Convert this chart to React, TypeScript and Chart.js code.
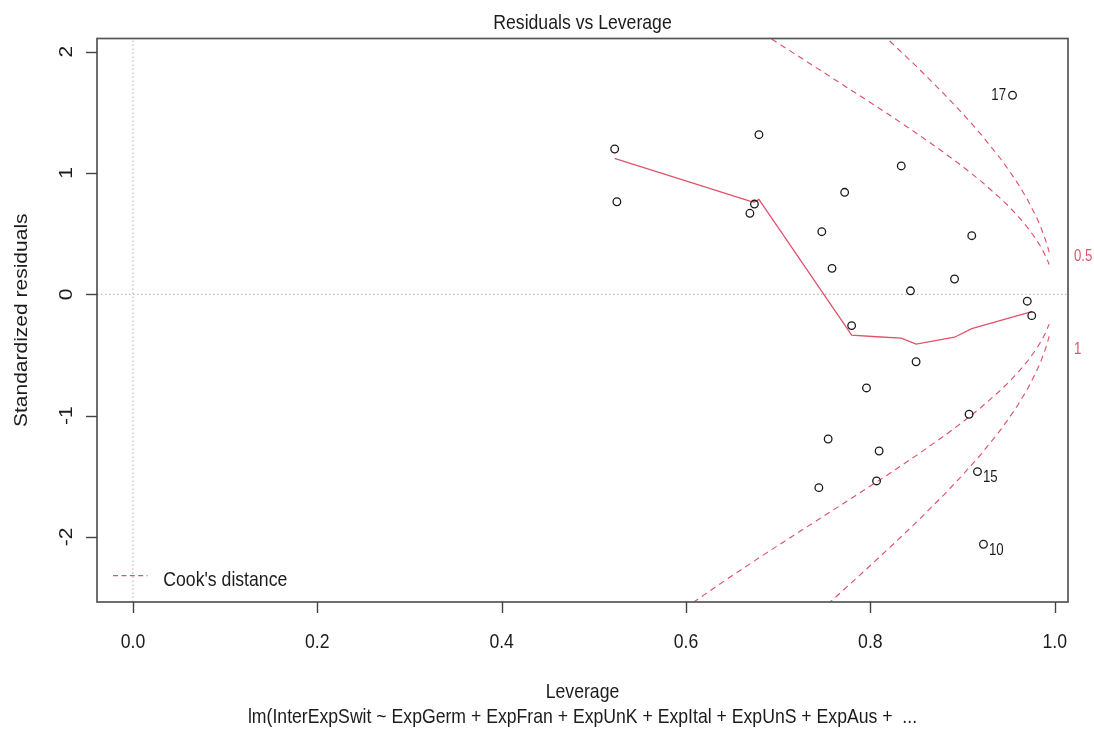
import React, { useEffect, useRef } from "react";
import { Chart, registerables } from "chart.js";

Chart.register(...registerables);

// ---- data ----
const leverage = [
  0.5226, 0.525, 0.6791, 0.6742, 0.6693, 0.8335, 0.7721, 0.7473, 0.7584, 0.91,
  0.8913, 0.8435, 0.9702, 0.9751, 0.7797, 0.8496, 0.7958, 0.9071, 0.7542, 0.8095,
  0.8067, 0.7441, 0.9162, 0.9227, 0.9542,
];
const stdResid = [
  1.198, 0.763, 1.316, 0.744, 0.668, 1.058, 0.841, 0.516, 0.214, 0.483,
  0.126, 0.029, -0.057, -0.176, -0.258, -0.556, -0.772, -0.989, -1.193, -1.292,
  -1.539, -1.594, -1.462, -2.061, 1.641,
];

const smoothLev = [0.5226, 0.525, 0.6693, 0.6742, 0.6791, 0.7797, 0.8067, 0.8335, 0.8496, 0.8913, 0.91, 0.9751];
const smoothRes = [1.121, 1.114, 0.769, 0.761, 0.783, -0.336, -0.35, -0.362, -0.41, -0.354, -0.283, -0.143];

const cook05Lev = [0.58, 0.6, 0.62, 0.65, 0.68, 0.7, 0.72, 0.75, 0.78, 0.8, 0.82, 0.85, 0.88, 0.9, 0.92, 0.94, 0.95, 0.96, 0.97, 0.98, 0.985, 0.99, 0.994];
const cook05Upper = [2.691, 2.582, 2.476, 2.32, 2.169, 2.07, 1.972, 1.826, 1.679, 1.581, 1.482, 1.328, 1.168, 1.054, 0.933, 0.799, 0.726, 0.645, 0.556, 0.452, 0.39, 0.318, 0.246];
const cook05Lower = [-2.691, -2.582, -2.476, -2.32, -2.169, -2.07, -1.972, -1.826, -1.679, -1.581, -1.482, -1.328, -1.168, -1.054, -0.933, -0.799, -0.726, -0.645, -0.556, -0.452, -0.39, -0.318, -0.246];

const cook1Lev = [0.72, 0.74, 0.76, 0.78, 0.8, 0.82, 0.85, 0.88, 0.9, 0.92, 0.94, 0.95, 0.96, 0.97, 0.98, 0.985, 0.99, 0.994];
const cook1Upper = [2.789, 2.651, 2.513, 2.375, 2.236, 2.095, 1.879, 1.651, 1.491, 1.319, 1.13, 1.026, 0.913, 0.787, 0.639, 0.552, 0.449, 0.3475];
const cook1Lower = [-2.789, -2.651, -2.513, -2.375, -2.236, -2.095, -1.879, -1.651, -1.491, -1.319, -1.13, -1.026, -0.913, -0.787, -0.639, -0.552, -0.449, -0.3475];

const idLabels = ["17", "15", "10"];
const idPoints = [24, 22, 23];

const xTickValues = [0, 0.2, 0.4, 0.6, 0.8, 1.0];
const xTickLabels = ["0.0", "0.2", "0.4", "0.6", "0.8", "1.0"];
const yTickValues = [-2, -1, 0, 1, 2];
const yTickLabels = ["-2", "-1", "0", "1", "2"];
const cookAxisValues = [0.318, -0.449];
const cookAxisLabels = ["0.5", "1"];

const titleText = "Residuals vs Leverage";
const xTitleText = "Leverage";
const yTitleText = "Standardized residuals";
const subTitleText = "lm(InterExpSwit ~ ExpGerm + ExpFran + ExpUnK + ExpItal + ExpUnS + ExpAus +  ...";
const legendText = "Cook's distance";

const X_MIN = -0.039;
const X_MAX = 1.0144;
const Y_MIN = -2.537;
const Y_MAX = 2.109;

// ---- styles ----
const RED = "#DF536B";
const INK = "#1c1c1c";
const FONT = '"Liberation Sans", Arial, sans-serif';
const K = 0.84;
const SIZE = 21;
const SIZE_ID = 15.75;

function sText(
  ctx: CanvasRenderingContext2D,
  text: string,
  x: number,
  y: number,
  size: number,
  align: CanvasTextAlign,
  baseline: CanvasTextBaseline,
  color: string,
  rotate = false
) {
  ctx.save();
  ctx.font = `${size}px ${FONT}`;
  ctx.fillStyle = color;
  ctx.textAlign = align;
  ctx.textBaseline = baseline;
  ctx.translate(x, y);
  ctx.scale(K, 1);
  if (rotate) ctx.rotate(-Math.PI / 2);
  ctx.fillText(text, 0, 0);
  ctx.restore();
}

const decorPlugin = {
  id: "rDecor",
  beforeDraw(chart: any) {
    const ctx = chart.ctx;
    ctx.save();
    ctx.fillStyle = "#ffffff";
    ctx.fillRect(0, 0, chart.width, chart.height);
    ctx.restore();
  },
  afterDraw(chart: any) {
    const ctx: CanvasRenderingContext2D = chart.ctx;
    const { left, right, top, bottom } = chart.chartArea;
    const xs = chart.scales.x;
    const ys = chart.scales.y;
    const cx = (left + right) / 2;

    // box
    ctx.save();
    ctx.strokeStyle = "#555555";
    ctx.lineWidth = 1.7;
    ctx.strokeRect(left, top, right - left, bottom - top);

    // ticks
    ctx.strokeStyle = "#444444";
    ctx.lineWidth = 1.4;
    xTickValues.forEach((v) => {
      const px = Math.round(xs.getPixelForValue(v)) + 0.5;
      ctx.beginPath();
      ctx.moveTo(px, bottom);
      ctx.lineTo(px, bottom + 11);
      ctx.stroke();
    });
    yTickValues.forEach((v) => {
      const py = Math.round(ys.getPixelForValue(v)) + 0.5;
      ctx.beginPath();
      ctx.moveTo(left - 11, py);
      ctx.lineTo(left, py);
      ctx.stroke();
    });
    ctx.restore();

    xTickValues.forEach((v, i) => {
      sText(ctx, xTickLabels[i], xs.getPixelForValue(v), bottom + 45.5, SIZE, "center", "alphabetic", INK);
    });
    yTickValues.forEach((v, i) => {
      sText(ctx, yTickLabels[i], left - 25.3, ys.getPixelForValue(v), SIZE, "center", "alphabetic", INK, true);
    });

    // titles
    sText(ctx, titleText, cx, 28.5, SIZE, "center", "alphabetic", INK);
    sText(ctx, xTitleText, cx, 698, SIZE, "center", "alphabetic", INK);
    sText(ctx, subTitleText, cx, 723, SIZE, "center", "alphabetic", INK);
    sText(ctx, yTitleText, 27.3, (top + bottom) / 2, SIZE, "center", "alphabetic", INK, true);

    // legend
    ctx.save();
    ctx.strokeStyle = RED;
    ctx.lineWidth = 1.3;
    ctx.setLineDash([5, 3.4]);
    ctx.beginPath();
    ctx.moveTo(113, 575.7);
    ctx.lineTo(147.5, 575.7);
    ctx.stroke();
    ctx.restore();
    sText(ctx, legendText, 163.3, 585.7, SIZE, "left", "alphabetic", INK);

    // Cook's distance axis labels (right margin)
    cookAxisValues.forEach((v, i) => {
      sText(ctx, cookAxisLabels[i], right + 6, ys.getPixelForValue(v) + 1, SIZE_ID, "left", "middle", RED);
    });

    // point id labels
    idPoints.forEach((p, i) => {
      const px = xs.getPixelForValue(leverage[p]);
      const py = ys.getPixelForValue(stdResid[p]);
      if (stdResid[p] > 0) {
        sText(ctx, idLabels[i], px - 6.5, py + 0.5, SIZE_ID, "right", "middle", INK);
      } else {
        sText(ctx, idLabels[i], px + 5.5, py + 6.2, SIZE_ID, "left", "middle", INK);
      }
    });
  },
};

export default function App() {
  const ref = useRef<HTMLCanvasElement | null>(null);

  useEffect(() => {
    if (!ref.current) return;
    const pts = leverage.map((x, i) => ({ x, y: stdResid[i] }));
    const smooth = smoothLev.map((x, i) => ({ x, y: smoothRes[i] }));
    const c05u = cook05Lev.map((x, i) => ({ x, y: cook05Upper[i] }));
    const c05l = cook05Lev.map((x, i) => ({ x, y: cook05Lower[i] }));
    const c1u = cook1Lev.map((x, i) => ({ x, y: cook1Upper[i] }));
    const c1l = cook1Lev.map((x, i) => ({ x, y: cook1Lower[i] }));

    const dashed = (data: any[]) => ({
      data,
      showLine: true,
      borderColor: RED,
      borderWidth: 1.15,
      borderDash: [6, 4.5],
      pointRadius: 0,
      order: 3,
    });

    const chart = new Chart(ref.current, {
      type: "scatter",
      data: {
        datasets: [
          {
            data: pts,
            pointRadius: 3.8,
            pointBorderWidth: 1.3,
            pointBorderColor: "#1a1a1a",
            pointBackgroundColor: "rgba(0,0,0,0)",
            borderColor: "#1a1a1a",
            backgroundColor: "rgba(0,0,0,0)",
            showLine: false,
            order: 0,
          },
          {
            data: smooth,
            showLine: true,
            borderColor: RED,
            borderWidth: 1.3,
            pointRadius: 0,
            order: 1,
          },
          dashed(c05u),
          dashed(c05l),
          dashed(c1u),
          dashed(c1l),
          {
            data: [
              { x: X_MIN, y: 0 },
              { x: X_MAX, y: 0 },
            ],
            showLine: true,
            borderColor: "#bdbdbd",
            borderWidth: 1.2,
            borderDash: [1.5, 2.5],
            pointRadius: 0,
            order: 5,
          },
          {
            data: [
              { x: 0, y: Y_MIN },
              { x: 0, y: Y_MAX },
            ],
            showLine: true,
            borderColor: "#bdbdbd",
            borderWidth: 1.2,
            borderDash: [1.5, 2.5],
            pointRadius: 0,
            order: 5,
          },
        ] as any,
      },
      options: {
        animation: false,
        responsive: false,
        devicePixelRatio: 1,
        events: [],
        layout: { padding: { left: 97, right: 26, top: 38.5, bottom: 127 } },
        scales: {
          x: { type: "linear", min: X_MIN, max: X_MAX, display: false },
          y: { type: "linear", min: Y_MIN, max: Y_MAX, display: false },
        },
        plugins: {
          legend: { display: false },
          tooltip: { enabled: false },
          title: { display: false },
        },
      },
      plugins: [decorPlugin],
    });
    return () => chart.destroy();
  }, []);

  return (
    <div style={{ position: "absolute", left: 0, top: 0, width: 1094, height: 729, background: "#fff" }}>
      <canvas ref={ref} width={1094} height={729} style={{ width: 1094, height: 729, display: "block" }} />
    </div>
  );
}
